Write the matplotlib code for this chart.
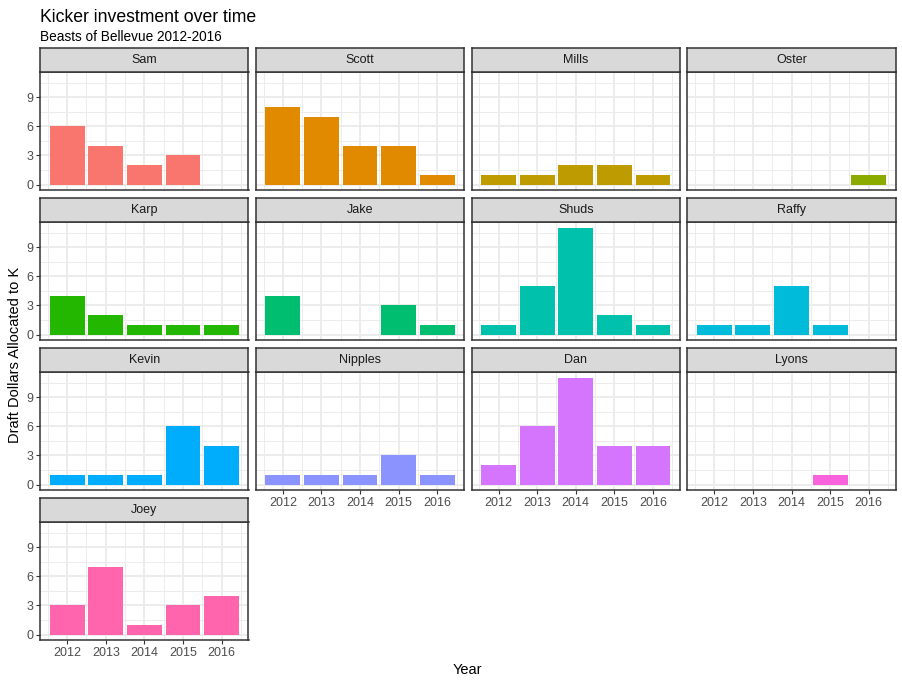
import numpy as np
import matplotlib
matplotlib.use('Agg')
import matplotlib.pyplot as plt

plt.rcParams['font.family'] = ['Liberation Sans', 'DejaVu Sans']

# kicker spend per owner, 2012-2016 (0 = no bar)
years = [2012, 2013, 2014, 2015, 2016]
owners = ['Sam', 'Scott', 'Mills', 'Oster', 'Karp', 'Jake', 'Shuds', 'Raffy',
          'Kevin', 'Nipples', 'Dan', 'Lyons', 'Joey']
sam = [6, 4, 2, 3, 0]
scott = [8, 7, 4, 4, 1]
mills = [1, 1, 2, 2, 1]
oster = [0, 0, 0, 0, 1]
karp = [4, 2, 1, 1, 1]
jake = [4, 0, 0, 3, 1]
shuds = [1, 5, 11, 2, 1]
raffy = [1, 1, 5, 1, 0]
kevin = [1, 1, 1, 6, 4]
nipples = [1, 1, 1, 3, 1]
dan = [2, 6, 11, 4, 4]
lyons = [0, 0, 0, 1, 0]
joey = [3, 7, 1, 3, 4]
values = [sam, scott, mills, oster, karp, jake, shuds, raffy,
          kevin, nipples, dan, lyons, joey]

# ggplot hue palette for 13 levels
colors = ['#F8766D', '#E18A00', '#BE9C00', '#8CAB00', '#24B700', '#00BE70',
          '#00C1AB', '#00BBDA', '#00ACFC', '#8B93FF', '#D575FE', '#F962DD', '#FF65AC']

W, H = 903, 683
fig = plt.figure(figsize=(W / 100, H / 100), dpi=100)

def fr(x, y, w, h):
    # pixel box (top-left origin) -> figure fraction
    return [x / W, 1 - (y + h) / H, w / W, h / H]

ncol = 4
pw, ph = 208.2, 117.7
sh = 24.6
gray_txt = '#4D4D4D'
edge = '#333333'

for i, name in enumerate(owners):
    r, c = divmod(i, ncol)
    x0 = 40.3 + c * 215.7
    st = 47.7 + r * 150
    ax = fig.add_axes(fr(x0, st + sh, pw, ph))
    sax = fig.add_axes(fr(x0, st, pw, sh))

    v = np.array(values[i])
    yr = np.array(years)
    m = v > 0
    ax.bar(yr[m], v[m], width=0.9, color=colors[i], zorder=3)

    ax.set_xlim(2011.305, 2016.695)
    ax.set_ylim(-0.55, 11.55)
    ax.set_xticks(years)
    ax.set_xticks(np.arange(2011.5, 2017, 1), minor=True)
    ax.set_yticks([0, 3, 6, 9])
    ax.set_yticks([1.5, 4.5, 7.5, 10.5], minor=True)
    ax.grid(which='major', color='#EBEBEB', lw=1.3, zorder=0)
    ax.grid(which='minor', color='#EBEBEB', lw=0.65, zorder=0)
    ax.set_axisbelow(True)
    for s in ax.spines.values():
        s.set_color(edge)
        s.set_linewidth(1.1)
    ax.tick_params(which='minor', length=0)
    ax.tick_params(which='major', length=2.7, width=0.8, color=edge,
                   labelsize=9, labelcolor=gray_txt, pad=2)

    bottom = (i + ncol >= len(owners))
    if not bottom:
        ax.tick_params(axis='x', which='major', length=0, labelbottom=False)
    if c != 0:
        ax.tick_params(axis='y', which='major', length=0, labelleft=False)

    sax.set_facecolor('#D9D9D9')
    sax.set_xticks([])
    sax.set_yticks([])
    for s in sax.spines.values():
        s.set_color(edge)
        s.set_linewidth(1.1)
    sax.text(0.5, 0.5, name, ha='center', va='center', fontsize=9,
             color='#1A1A1A', transform=sax.transAxes)

fig.text(40 / W, 1 - 17 / H, 'Kicker investment over time', fontsize=12.7,
         ha='left', va='center')
fig.text(40 / W, 1 - 37 / H, 'Beasts of Bellevue 2012-2016', fontsize=9.8,
         ha='left', va='center')
fig.text(467.5 / W, 1 - 670 / H, 'Year', fontsize=10.5, ha='center', va='center')
fig.text(15 / W, 1 - 355 / H, 'Draft Dollars Allocated to K', fontsize=10.5,
         ha='center', va='center', rotation=90)

fig.savefig('out.png', dpi=100)
